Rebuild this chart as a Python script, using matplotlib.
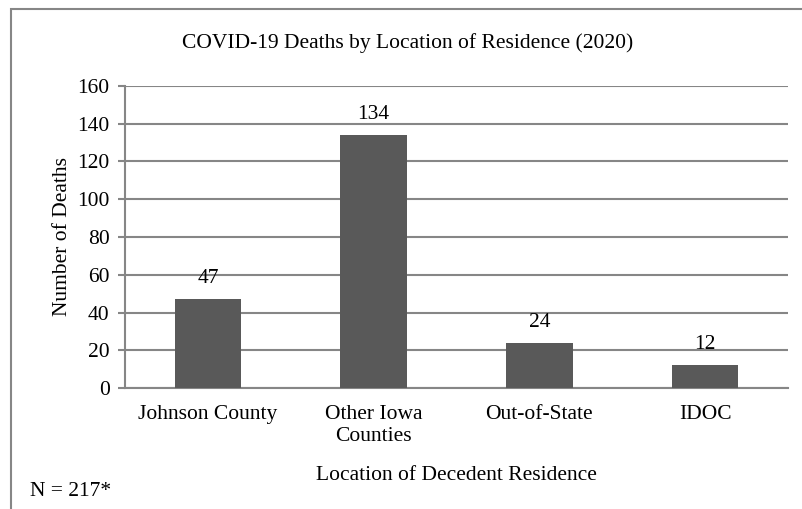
import matplotlib
matplotlib.use("Agg")
import matplotlib.pyplot as plt
from matplotlib.patches import Rectangle

# --- data ---
categories = ["Johnson County", "Other Iowa\nCounties", "Out-of-State", "IDOC"]
deaths = [47, 134, 24, 12]
yticks = [0, 20, 40, 60, 80, 100, 120, 140, 160]

FS = 15.5
plt.rcParams["font.family"] = ["Liberation Serif", "DejaVu Serif"]
plt.rcParams["font.size"] = FS

W, H = 802, 509
fig = plt.figure(figsize=(W / 100, H / 100), dpi=100)
fig.patch.set_facecolor("white")

# outer chart border (right/bottom edges fall outside the image)
fig.patches.append(Rectangle((11 / W, -0.05), 1.2, 1 - 9 / H + 0.05,
                             transform=fig.transFigure, fill=False,
                             ec="#868686", lw=1.5, zorder=0))

ax = fig.add_axes([125 / W, 1 - 388 / H, (788 - 125) / W, (388 - 86) / H])
x = list(range(len(categories)))
ax.bar(x, deaths, width=0.4, color="#595959", zorder=3)
for xi, v in zip(x, deaths):
    ax.annotate(str(v), (xi, v), xytext=(0, 8), textcoords="offset points",
                ha="center", va="bottom", fontsize=FS)

ax.set_xlim(-0.5, len(categories) - 0.5)
ax.set_ylim(0, 160)
ax.set_yticks(yticks)
ax.set_xticks(x)
ax.set_xticklabels(categories, linespacing=1.25)
ax.yaxis.grid(True, color="#868686", lw=1.5, zorder=0)
ax.set_axisbelow(True)
for s in ["top", "right"]:
    ax.spines[s].set_visible(False)
for s in ["left", "bottom"]:
    ax.spines[s].set_color("#868686")
    ax.spines[s].set_linewidth(1.5)
ax.tick_params(axis="y", length=5, width=1.5, color="#868686", pad=6)
ax.tick_params(axis="x", length=0, pad=12)

ax.set_ylabel("Number of Deaths", labelpad=4)
ax.set_xlabel("Location of Decedent Residence", labelpad=14)
fig.text(408 / W, 1 - 43 / H,
         "COVID-19 Deaths by Location of Residence (2020)",
         ha="center", va="center", fontsize=FS)
fig.text(30 / W, 1 - 491 / H, "N = 217*", ha="left", va="center", fontsize=FS)

fig.savefig("out.png", dpi=100, facecolor="white")
